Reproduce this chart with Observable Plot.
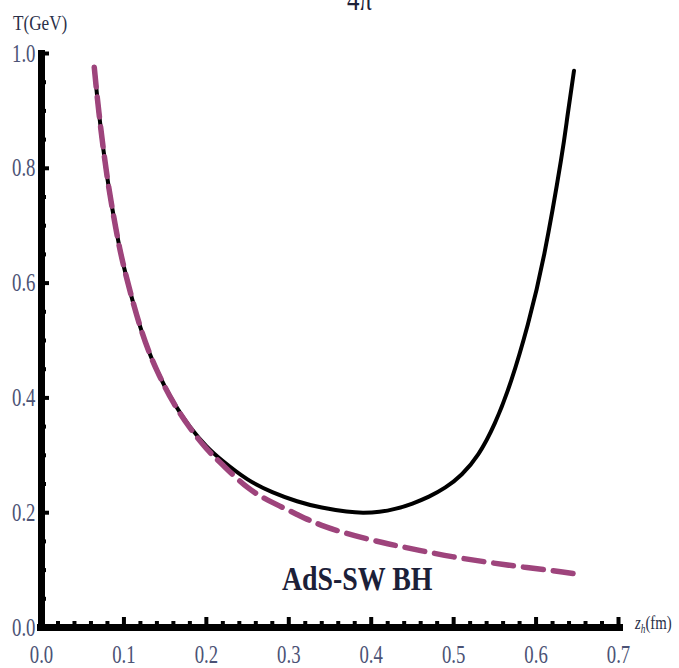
<!DOCTYPE html>
<html><head><meta charset="utf-8">
<script src="https://cdn.jsdelivr.net/npm/d3@7"></script>
<script src="https://cdn.jsdelivr.net/npm/@observablehq/plot@0.6"></script>
<style>body{margin:0;background:#fff}</style>
</head><body><div id="chart"></div>
<script>
// Black solid curve (full model)
const zBlack = [0.064,0.07,0.08,0.09,0.10,0.12,0.14,0.16,0.18,0.20,0.22,0.25,0.28,0.31,0.34,0.37,0.39,0.41,0.43,0.45,0.47,0.49,0.51,0.53,0.55,0.57,0.59,0.61,0.63,0.638,0.646];
const tBlack = [0.976,0.893,0.782,0.697,0.628,0.523,0.448,0.393,0.350,0.316,0.290,0.258,0.236,0.220,0.209,0.202,0.200,0.2015,0.207,0.216,0.228,0.244,0.267,0.302,0.356,0.431,0.528,0.651,0.812,0.890,0.970];
// Purple dashed curve (AdS-SW BH)
const zDashed = [0.064,0.07,0.08,0.09,0.10,0.12,0.14,0.16,0.18,0.20,0.22,0.25,0.28,0.31,0.34,0.38,0.42,0.46,0.50,0.54,0.58,0.62,0.645];
const tDashed = [0.976,0.893,0.782,0.697,0.628,0.523,0.448,0.392,0.348,0.312,0.283,0.244,0.218,0.197,0.178,0.160,0.146,0.134,0.123,0.114,0.106,0.099,0.094];

const xMajorTicks = [0,0.1,0.2,0.3,0.4,0.5,0.6,0.7];
const xMinorTicks = [0.02,0.04,0.06,0.08,0.12,0.14,0.16,0.18,0.22,0.24,0.26,0.28,0.32,0.34,0.36,0.38,0.42,0.44,0.46,0.48,0.52,0.54,0.56,0.58,0.62,0.64,0.66,0.68];
const yMajorTicks = [0,0.2,0.4,0.6,0.8,1.0];
const yMinorTicks = [0.05,0.1,0.15,0.25,0.3,0.35,0.45,0.5,0.55,0.65,0.7,0.75,0.85,0.9,0.95];
const annotations = [{label: "AdS-SW BH", z: 0.383, T: 0.085}];

const black = zBlack.map((z, i) => ({z, T: tBlack[i]}));
const dashed = zDashed.map((z, i) => ({z, T: tDashed[i]}));

const FONT = "'Liberation Serif', 'Times New Roman', serif";
const LABEL = "#4b5275";
const PURPLE = "#9e447c";

const chart = Plot.plot({
  width: 679, height: 668,
  marginTop: 53, marginBottom: 41, marginLeft: 41, marginRight: 61,
  style: {background: "#fff"},
  x: {domain: [0, 0.7], label: null},
  y: {domain: [0, 1.0], label: null},
  marks: [
    Plot.ruleY([0], {stroke: "black", strokeWidth: 7, insetLeft: -4, insetRight: -5}),
    Plot.ruleX([0], {stroke: "black", strokeWidth: 7, insetTop: -3, insetBottom: -4}),
    Plot.axisX({ticks: xMajorTicks, tickSize: -10, stroke: "black", strokeWidth: 4, fill: "none", label: null}),
    Plot.axisX({ticks: xMinorTicks, tickSize: -6, stroke: "black", strokeWidth: 4, fill: "none", label: null}),
    Plot.axisY({ticks: yMajorTicks, tickSize: -8, stroke: "black", strokeWidth: 4, fill: "none", label: null}),
    Plot.axisY({ticks: yMinorTicks, tickSize: -5, stroke: "black", strokeWidth: 4, fill: "none", label: null}),
    Plot.axisX({ticks: xMajorTicks, tickSize: 0, tickPadding: 18, tickFormat: d3.format(".1f"), fill: LABEL, fontSize: 25, label: null}),
    Plot.axisY({ticks: yMajorTicks, tickSize: 0, tickPadding: 6, tickFormat: d3.format(".1f"), fill: LABEL, fontSize: 25, label: null}),
    Plot.line(black, {x: "z", y: "T", stroke: "black", strokeWidth: 4, curve: "natural"}),
    Plot.line(dashed, {x: "z", y: "T", stroke: PURPLE, strokeWidth: 5.5, strokeDasharray: "20,10", curve: "natural"}),
    Plot.text(annotations, {x: "z", y: "T", text: "label", fontSize: 34, fontWeight: "bold", fill: "#1c2038", textAnchor: "middle", lineAnchor: "middle"})
  ]
});

const svg = d3.select(chart);
// Extra labels
svg.append("text").attr("class", "extra").attr("transform", "translate(13,30)").attr("text-anchor", "start").attr("font-size", 22).attr("fill", "#2a2f48").text("T(GeV)");
svg.append("text").attr("class", "extra").attr("transform", "translate(347,10)").attr("text-anchor", "start").attr("font-size", 32).attr("fill", "#1c2038").text("4π");
const zl = svg.append("text").attr("class", "extra").attr("transform", "translate(635,629)").attr("text-anchor", "start").attr("font-size", 19).attr("fill", "#2a2f48");
zl.append("tspan").attr("font-style", "italic").text("z");
zl.append("tspan").attr("font-style", "italic").attr("font-size", 12).attr("dy", 4).text("h");
zl.append("tspan").attr("dy", -4).text("(fm)");

function squeeze(sel, k, size) {
  sel.each(function() {
    const t = this.getAttribute("transform") || "";
    this.setAttribute("transform", t + ` scale(${k},1)`);
    this.setAttribute("font-family", FONT);
    this.style.fontFamily = FONT;
    if (size) { this.setAttribute("font-size", size); this.style.fontSize = size + "px"; }
  });
}
squeeze(svg.selectAll('g[aria-label="x-axis tick label"] text, g[aria-label="y-axis tick label"] text'), 0.75, 25);
squeeze(svg.selectAll('g[aria-label="text"] text'), 0.82, 34);
squeeze(svg.selectAll('text.extra'), 0.78, null);

document.getElementById("chart").appendChild(chart);
</script>
</body></html>
